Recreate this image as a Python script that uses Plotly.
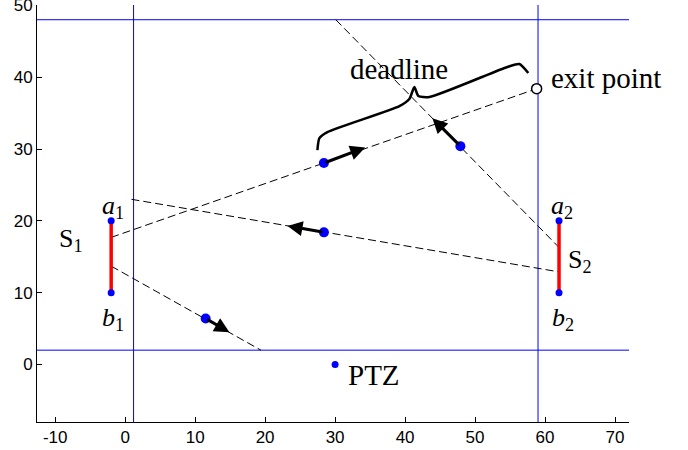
import plotly.graph_objects as go

# ---- data ----
x_range = [-12.6, 72]
y_range = [-8, 50.05]
x_ticks = [-10, 0, 10, 20, 30, 40, 50, 60, 70]
y_ticks = [0, 10, 20, 30, 40, 50]

# blue boundary lines
bound_v_x = [1.2, 59]
bound_h_y = [2, 48]

# sensor segments S1, S2 (a = top end, b = bottom end)
seg_x = [-2, 62]
seg_a_y = [20, 20]
seg_b_y = [10, 10]

# dashed trajectories (start, end)
traj1_x = [-2, 58.8]
traj1_y = [17.7, 38.4]
traj2_x = [30.1, 62]
traj2_y = [48, 16.3]
traj3_x = [0.9, 62]
traj3_y = [23.0, 12.9]
traj4_x = [-2, 19.4]
traj4_y = [13.7, 2]

# moving objects (positions) and arrow tips (heading)
obj_x = [28.4, 47.9, 28.4, 11.5]
obj_y = [28.05, 30.4, 18.4, 6.4]
tip_x = [34.3, 43.9, 23.2, 14.9]
tip_y = [30.2, 34.3, 19.3, 4.5]

# PTZ camera and exit point
ptz_x, ptz_y = [30], [0]
exit_x, exit_y = [58.8], [38.4]

# curly brace ("deadline")
brace_x = [27.47, 27.76, 28.9, 39.19, 40.61, 41.33, 41.9, 43.47, 54.61, 56.33, 57.61]
brace_y = [29.85, 31.52, 32.36, 35.98, 36.96, 38.63, 37.38, 37.24, 41.42, 41.84, 40.59]

BLUE = "#0000ff"
SERIF = "Liberation Serif, Times New Roman, serif"
SANS = "Liberation Sans, Arial, sans-serif"

fig = go.Figure()

# boundary lines
for xv in bound_v_x:
    fig.add_trace(go.Scatter(x=[xv, xv], y=y_range, mode="lines",
                             line=dict(color=BLUE, width=1), hoverinfo="skip"))
for yv in bound_h_y:
    fig.add_trace(go.Scatter(x=x_range, y=[yv, yv], mode="lines",
                             line=dict(color=BLUE, width=1), hoverinfo="skip"))

# dashed trajectories
for tx, ty in [(traj1_x, traj1_y), (traj2_x, traj2_y), (traj3_x, traj3_y), (traj4_x, traj4_y)]:
    fig.add_trace(go.Scatter(x=tx, y=ty, mode="lines",
                             line=dict(color="black", width=1, dash="8px,4px"),
                             hoverinfo="skip"))

# red sensor segments with blue endpoints
for i in range(2):
    fig.add_trace(go.Scatter(x=[seg_x[i], seg_x[i]], y=[seg_a_y[i], seg_b_y[i]],
                             mode="lines+markers",
                             line=dict(color="red", width=3.5),
                             marker=dict(color=BLUE, size=7), hoverinfo="skip"))

# brace
fig.add_trace(go.Scatter(x=brace_x, y=brace_y, mode="lines",
                         line=dict(color="black", width=2.5, shape="spline", smoothing=0.6),
                         hoverinfo="skip"))

# objects
fig.add_trace(go.Scatter(x=obj_x, y=obj_y, mode="markers",
                         marker=dict(color=BLUE, size=10), hoverinfo="skip"))
fig.add_trace(go.Scatter(x=ptz_x, y=ptz_y, mode="markers",
                         marker=dict(color=BLUE, size=7), hoverinfo="skip"))
fig.add_trace(go.Scatter(x=exit_x, y=exit_y, mode="markers",
                         marker=dict(color="white", size=10, line=dict(color="black", width=1.5)),
                         hoverinfo="skip"))

# arrows
for i in range(len(obj_x)):
    fig.add_annotation(x=tip_x[i], y=tip_y[i], ax=obj_x[i], ay=obj_y[i],
                       xref="x", yref="y", axref="x", ayref="y",
                       text="", showarrow=True, arrowhead=2, arrowsize=1.0,
                       arrowwidth=3, arrowcolor="black", standoff=0, startstandoff=0)

def label(x, y, text, size=26, xanchor="center"):
    fig.add_annotation(x=x, y=y, xref="x", yref="y", text=text, showarrow=False,
                       xanchor=xanchor, yanchor="middle",
                       font=dict(family=SERIF, size=size, color="black"))

label(-1.8, 21.9, "<i>a</i><sub>1</sub>")
label(-1.8, 6.4, "<i>b</i><sub>1</sub>")
label(-7.7, 17.3, "S<sub>1</sub>")
label(62.4, 21.9, "<i>a</i><sub>2</sub>")
label(62.6, 6.4, "<i>b</i><sub>2</sub>")
label(65.0, 14.4, "S<sub>2</sub>")
label(39.2, 41.1, "deadline", size=29)
label(60.6, 39.9, "exit point", size=29, xanchor="left")
label(31.6, -1.5, "PTZ", size=29, xanchor="left")

fig.update_layout(
    width=688, height=450, autosize=False,
    margin=dict(l=37, r=59, t=5, b=28),
    paper_bgcolor="white", plot_bgcolor="white",
    showlegend=False,
    font=dict(family=SANS, size=17, color="black"),
)
fig.update_xaxes(range=x_range, tickvals=x_ticks, ticktext=[str(v) for v in x_ticks],
                 showgrid=False, zeroline=False, showline=True, linecolor="black",
                 linewidth=1, ticks="inside", ticklen=5, tickcolor="black",
                 automargin=False,
                 tickfont=dict(family=SANS, size=17, color="black"))
fig.update_yaxes(range=y_range, tickvals=y_ticks, ticktext=[str(v) for v in y_ticks],
                 showgrid=False, zeroline=False, showline=True, linecolor="black",
                 linewidth=1, ticks="inside", ticklen=5, tickcolor="black",
                 automargin=False, ticklabeloverflow="allow",
                 tickfont=dict(family=SANS, size=17, color="black"))

fig.write_html("out.html", config={"displayModeBar": False},
               post_script="document.body.style.margin='0';document.body.style.overflow='hidden';")
